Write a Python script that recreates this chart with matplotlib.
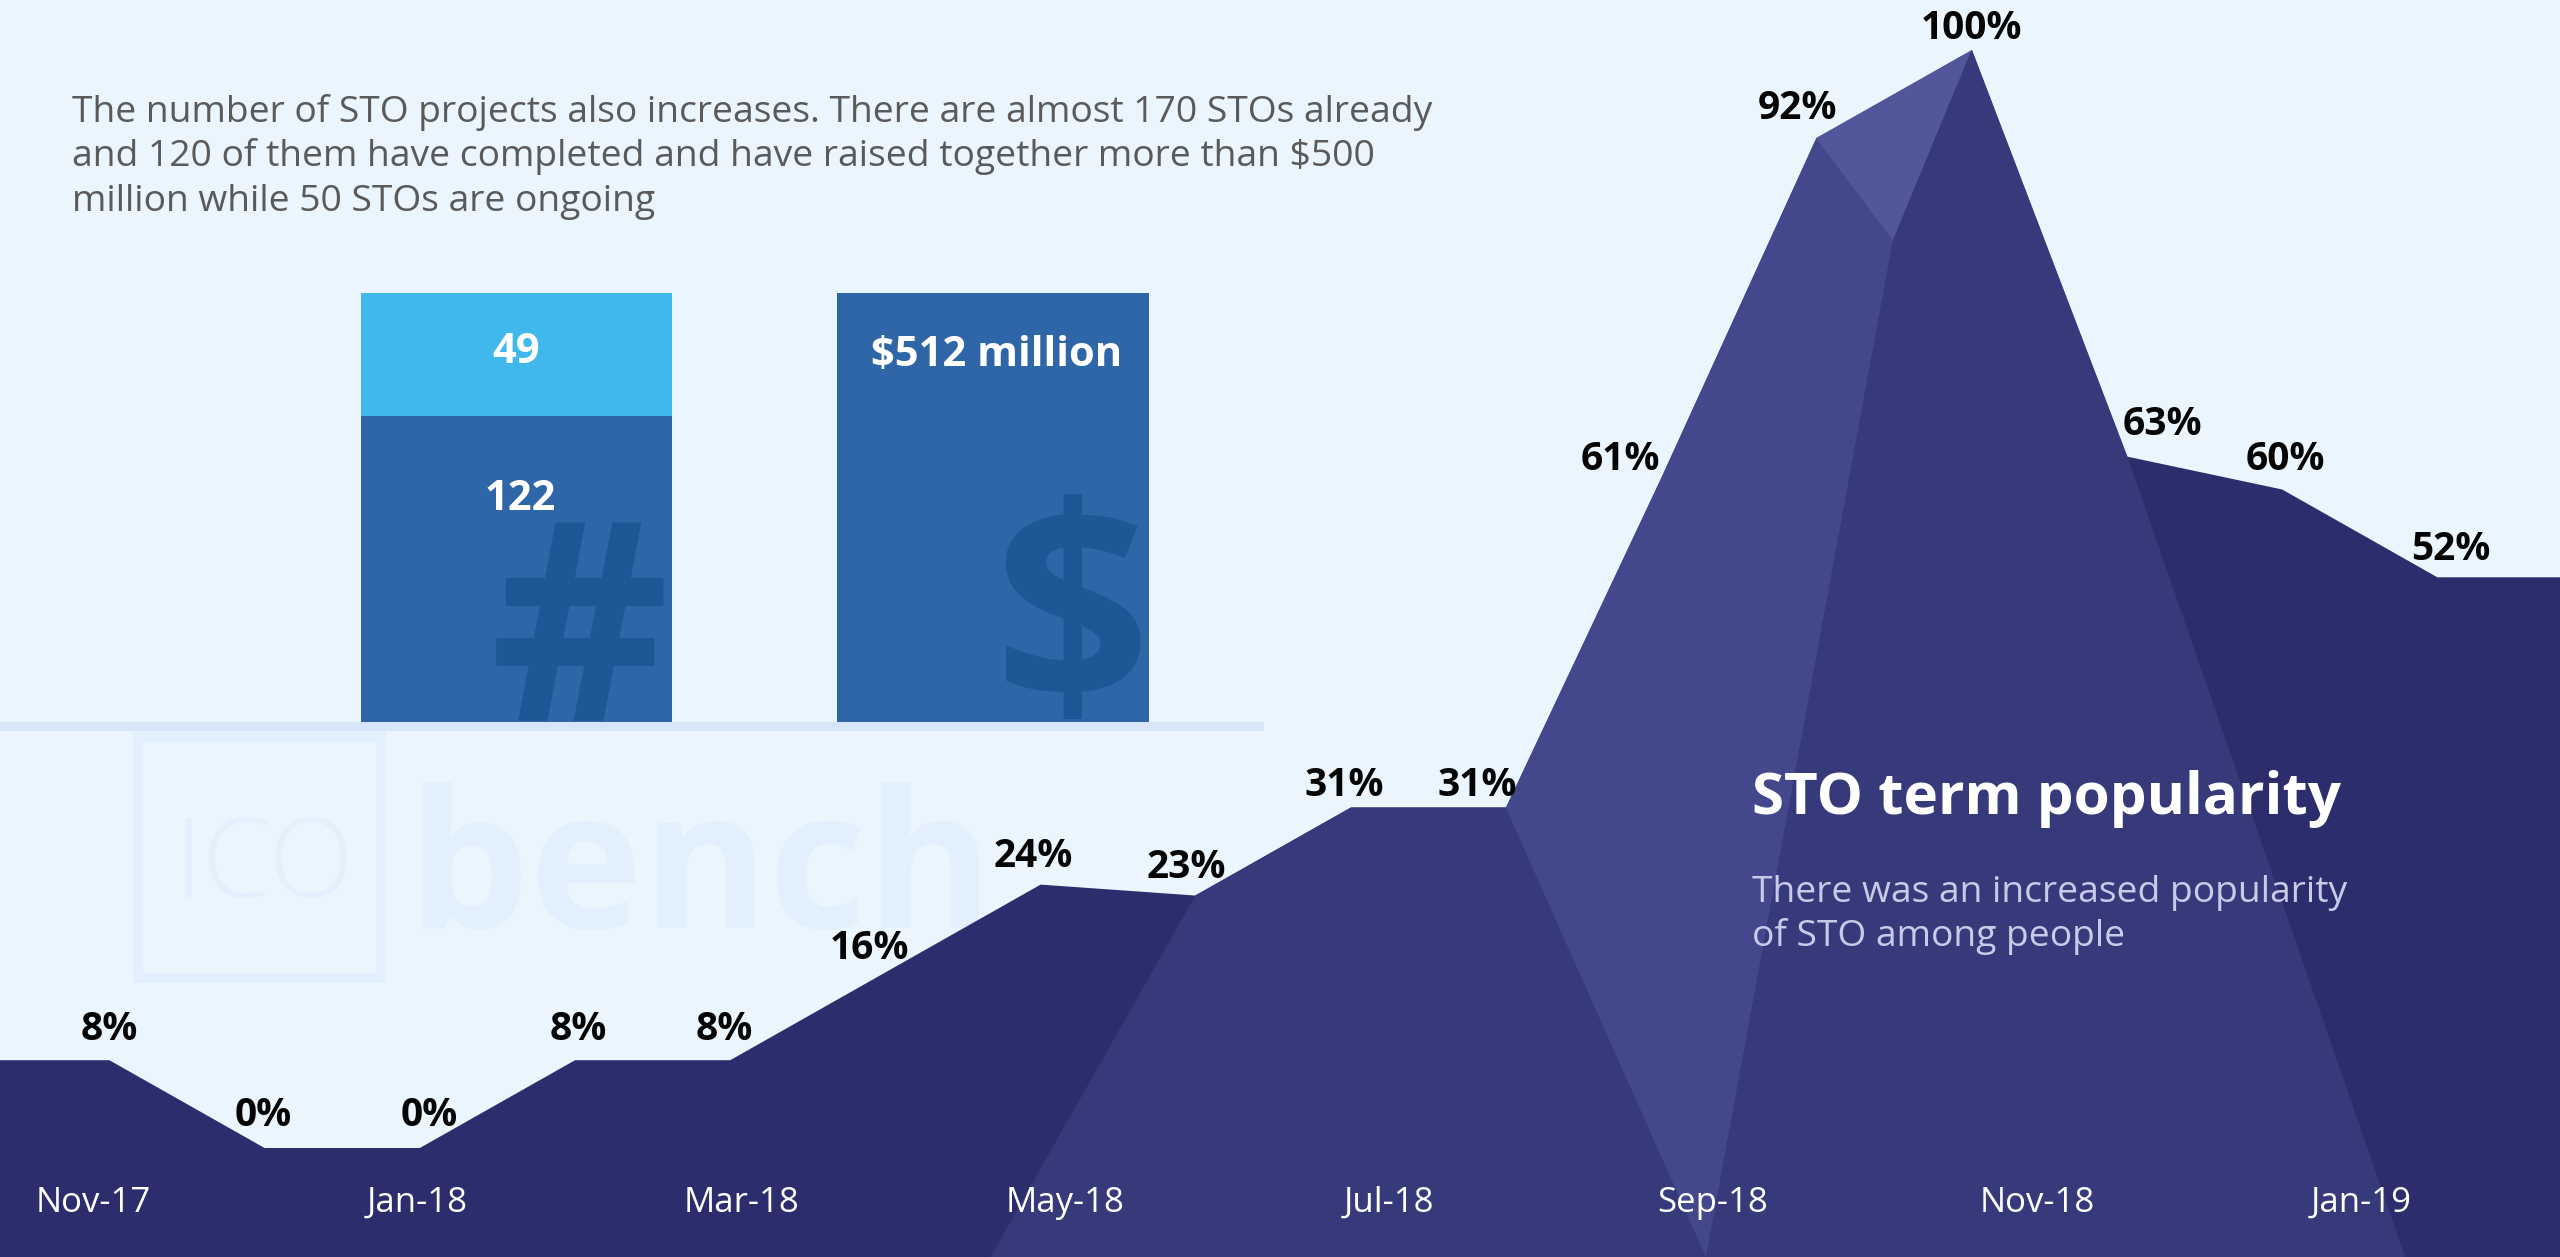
import numpy as np
import matplotlib
matplotlib.use("Agg")
import matplotlib.pyplot as plt
from matplotlib.patches import Rectangle, Polygon
from matplotlib.transforms import blended_transform_factory

# ---------------- data ----------------
months = ["Nov-17", "Dec-17", "Jan-18", "Feb-18", "Mar-18", "Apr-18", "May-18", "Jun-18",
          "Jul-18", "Aug-18", "Sep-18", "Oct-18", "Nov-18", "Dec-18", "Jan-19", "Feb-19"]
popularity = [8, 0, 0, 8, 8, 16, 24, 23, 31, 31, 61, 92, 100, 63, 60, 52]
tick_labels = ["Nov-17", "Jan-18", "Mar-18", "May-18", "Jul-18", "Sep-18", "Nov-18", "Jan-19"]

sto_categories = ["Completed", "Ongoing"]
sto_counts = [122, 49]
raised_musd = [512]
raised_label = "$512 million"

intro_lines = ["The number of STO projects also increases. There are almost 170 STOs already",
               "and 120 of them have completed and have raised together more than $500",
               "million while 50 STOs are ongoing"]
title = "STO term popularity"
subtitle_lines = ["There was an increased popularity", "of STO among people"]

# ---------------- style ----------------
W, H = 2560, 1257
BG = "#eaf5fe"
DARK = "#2b2d6d"
MED = "#363a7b"
LIGHT = "#43488d"
LIGHTEST = "#52569a"
BAR_DARK = "#2f66a7"
BAR_LIGHT = "#40b8eb"
GLYPH = "#1f5695"
WATER = "#e2effc"
DIVIDER = "#d6e6f8"
FONT = "Open Sans"
PX = 72 / 100.0  # pixels -> points

# label offsets (pixels) relative to each data vertex: (dx, dy)
label_offsets = [(0, 20), (-1, 22), (9, 22), (3, 20), (-6, 20), (-16, 13), (-7, 18), (-9, 18),
                 (-7, 12), (-29, 12), (-41, 9), (-19, 19), (0, 11), (35, 22), (3, 19), (13, 17)]

fig = plt.figure(figsize=(W / 100, H / 100), dpi=100)
fig.patch.set_facecolor(BG)

# ---------------- main area chart ----------------
ax = fig.add_axes([0, 0, 1, 1])
ax.set_xlim(-0.705, 15.79)
ax.set_ylim(-9.93, 104.6)
ax.axis("off")

x = np.arange(len(popularity))
x0, x1 = ax.get_xlim()
yb = ax.get_ylim()[0]
xe = np.r_[x0, x, x1]
ye = np.r_[popularity[0], popularity, popularity[-1]]
ax.fill_between(xe, yb, ye, color=DARK, lw=0, zorder=2)

# faceted shading (decorative), built on the data vertices
P = list(zip(x, popularity))
Q = (11.494, 82.7)
bx1, bx2, bx3 = 5.68, 10.29, 14.79
facets = [
    ([(bx1, yb), P[7], P[8], P[9], (bx2, yb)], MED),
    ([P[9], P[10], P[11], Q, (bx2, yb)], LIGHT),
    ([P[11], P[12], Q], LIGHTEST),
    ([Q, P[12], P[13], (bx3, yb), (bx2, yb)], MED),
]
for verts, col in facets:
    ax.add_patch(Polygon(verts, closed=True, facecolor=col, edgecolor=col, lw=0.6, zorder=3))

# value labels
for i, v in enumerate(popularity):
    dx, dy = label_offsets[i]
    ax.annotate(f"{v}%", xy=(i, v), xytext=(dx * PX, dy * PX), textcoords="offset points",
                ha="center", va="baseline", fontsize=28, fontweight="bold",
                family=FONT, color="#050505", zorder=6)

# month labels (own axis scale)
axt = ax.twiny()
axt.set_xlim(-0.574, 15.228)
axt.axis("off")
tr = blended_transform_factory(axt.transData, axt.transAxes)
for lab in tick_labels:
    m = months.index(lab)
    axt.text(m, (H - 1212) / H, lab, transform=tr, ha="center", va="baseline",
             fontsize=25, family=FONT, color="white", zorder=6)

# ---------------- watermark ----------------
tf = ax.transAxes
ax.add_patch(Rectangle((138 / W, 1 - 978 / H), (381 - 138) / W, (978 - 737) / H, transform=tf,
                       fill=False, edgecolor=WATER, lw=10 * PX, zorder=1))
ax.text(175 / W, 1 - 897 / H, "ICO", transform=tf, fontsize=80, family=FONT,
        fontweight="light", color=WATER, ha="left", va="baseline", zorder=1)
ax.text(408 / W, 1 - 928 / H, "bench", transform=tf, fontsize=138, family=FONT,
        fontweight="bold", color=WATER, ha="left", va="baseline", zorder=1)

# divider under bars
ax.add_patch(Rectangle((0, 1 - 731 / H), 1264 / W, 9 / H, transform=tf,
                       facecolor=DIVIDER, edgecolor="none", zorder=1.5))

# ---------------- texts ----------------
for k, (line, base) in enumerate(zip(intro_lines, [122, 166, 211])):
    ax.text(72 / W, 1 - base / H, line, transform=tf, fontsize=26.8, family=FONT,
            color="#5a5a5a", ha="left", va="baseline", zorder=6)

ax.text(1752 / W, 1 - 814 / H, title, transform=tf, fontsize=42, family=FONT,
        fontweight="bold", color="white", ha="left", va="baseline", zorder=6)
for line, base in zip(subtitle_lines, [902, 946]):
    ax.text(1752 / W, 1 - base / H, line, transform=tf, fontsize=26.8, family=FONT,
            color="#c8cae8", ha="left", va="baseline", zorder=6)

# ---------------- bars ----------------
bl, br, bt, bbm = 361, 1148.5, 293, 722
axb = fig.add_axes([bl / W, 1 - bbm / H, (br - bl) / W, (bbm - bt) / H])
axb.set_xlim(-0.32635, 1.32635)
axb.set_ylim(0, sum(sto_counts))
axb.axis("off")
bw = 0.6527
bars_c = axb.bar([0], [sto_counts[0]], width=bw, color=BAR_DARK, lw=0)
bars_o = axb.bar([0], [sto_counts[1]], bottom=[sto_counts[0]], width=bw, color=BAR_LIGHT, lw=0)

axm = axb.twinx()
axm.set_ylim(0, raised_musd[0])
axm.axis("off")
bars_m = axm.bar([1], raised_musd, width=bw, color=BAR_DARK, lw=0)

trb = blended_transform_factory(axb.transData, axb.transAxes)
g1 = axb.text(0.133, 0.002, "#", transform=trb, fontsize=200, family=FONT, fontweight="bold",
              color=GLYPH, ha="center", va="baseline", zorder=3)
g1.set_clip_path(bars_c.patches[0])
g2 = axm.text(1.165, 0.045, "$", transform=blended_transform_factory(axm.transData, axm.transAxes),
              fontsize=198, family=FONT, fontweight="bold", color=GLYPH, ha="center",
              va="baseline", zorder=3)
g2.set_clip_path(bars_m.patches[0])

tm = blended_transform_factory(axm.transData, axm.transAxes)
axm.text(0, (bbm - 352) / (bbm - bt), f"{sto_counts[1]}", transform=tm,
         fontsize=30, family=FONT, fontweight="bold", color="white", ha="center",
         va="center", zorder=5)
axm.text(0.007, (bbm - 499) / (bbm - bt), f"{sto_counts[0]}", transform=tm,
         fontsize=30, family=FONT, fontweight="bold", color="white", ha="center",
         va="center", zorder=5)
axm.text(1.008, (bbm - 355) / (bbm - bt), raised_label, transform=tm,
         fontsize=30, family=FONT, fontweight="bold", color="white", ha="center",
         va="center", zorder=5)

fig.savefig("out.png", dpi=100, facecolor=BG)
